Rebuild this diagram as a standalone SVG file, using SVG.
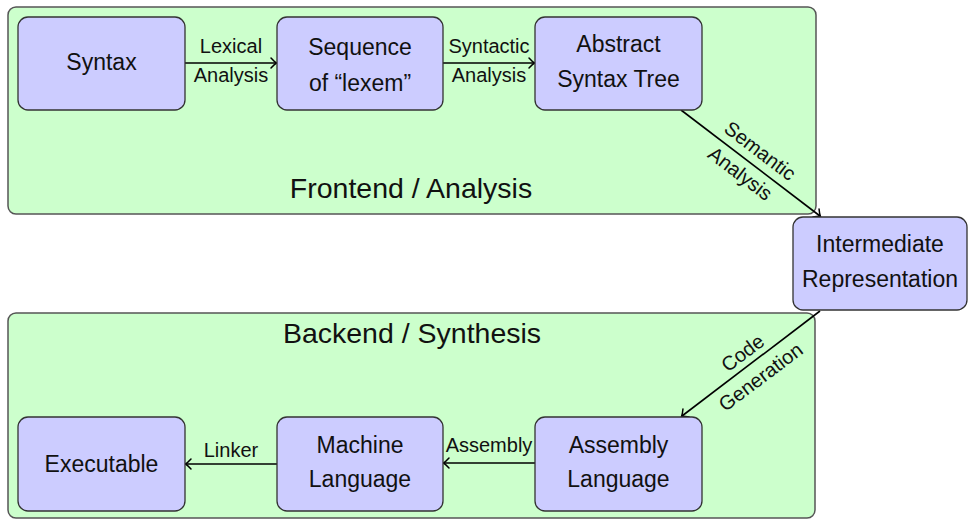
<svg xmlns="http://www.w3.org/2000/svg" width="968" height="519" viewBox="0 0 968 519">
<style>
.box{fill:#ccffcc;stroke:#555;stroke-width:1.5}
.node{fill:#ccccff;stroke:#333;stroke-width:1.3}
.nt{font-family:"Liberation Sans",Arial,sans-serif;font-size:23px;fill:#111;text-anchor:middle}
.et{font-family:"Liberation Sans",Arial,sans-serif;font-size:20px;fill:#111;text-anchor:middle}
.tt{font-family:"Liberation Sans",Arial,sans-serif;font-size:28.5px;fill:#111;text-anchor:middle}
.edge{fill:none;stroke:#000;stroke-width:1.6;marker-end:url(#arr)}
</style>
<defs>
<marker id="arr" markerUnits="userSpaceOnUse" markerWidth="14" markerHeight="14" viewBox="-10 -7 14 14" refX="0" refY="0" orient="auto">
<path d="M-5,-5 Q-1.5,-1.2 0.5,0 Q-1.5,1.2 -5,5" fill="none" stroke="#000" stroke-width="1.5" stroke-linecap="round"/>
</marker>
</defs>
<g id="frontend">
<rect class="box" x="8" y="7" width="808" height="207" rx="8"/>
<text class="tt" x="411" y="198">Frontend / Analysis</text>
</g>
<g id="backend">
<rect class="box" x="8" y="313" width="807" height="205" rx="8"/>
<text class="tt" x="412" y="343">Backend / Synthesis</text>
</g>
<g id="connectors">
<line class="edge" x1="185" y1="63" x2="276" y2="63"/>
<text class="et" x="231" y="53">Lexical</text>
<text class="et" x="231" y="82">Analysis</text>
<line class="edge" x1="443" y1="63" x2="534" y2="63"/>
<text class="et" x="489" y="53">Syntactic</text>
<text class="et" x="489" y="82">Analysis</text>
<line class="edge" x1="681" y1="110" x2="820" y2="216"/>
<g transform="translate(750.5,163.5) rotate(37.3)">
<text class="et" x="0" y="-9">Semantic</text>
<text class="et" x="-2" y="21">Analysis</text>
</g>
<line class="edge" x1="820" y1="311" x2="682" y2="416"/>
<g transform="translate(751,364) rotate(-37)">
<text class="et" x="0" y="-7">Code</text>
<text class="et" x="0" y="23">Generation</text>
</g>
<line class="edge" x1="535" y1="463" x2="444" y2="463"/>
<text class="et" x="489" y="452">Assembly</text>
<line class="edge" x1="277" y1="464" x2="186" y2="464"/>
<text class="et" x="231" y="457">Linker</text>
</g>
<g id="syntax">
<rect class="node" x="18" y="17" width="167" height="93" rx="10"/>
<text class="nt" x="101.5" y="70">Syntax</text>
</g>
<g id="lexems">
<rect class="node" x="277" y="17" width="166" height="93" rx="10"/>
<text class="nt" x="360" y="55">Sequence</text>
<text class="nt" x="360" y="91">of “lexem”</text>
</g>
<g id="ast">
<rect class="node" x="535" y="17" width="167" height="93" rx="10"/>
<text class="nt" x="618.5" y="52">Abstract</text>
<text class="nt" x="618.5" y="87">Syntax Tree</text>
</g>
<g id="ir">
<rect class="node" x="793" y="217" width="174" height="93" rx="10"/>
<text class="nt" x="880" y="252">Intermediate</text>
<text class="nt" x="880" y="287">Representation</text>
</g>
<g id="asm">
<rect class="node" x="535" y="417" width="167" height="94" rx="10"/>
<text class="nt" x="618.5" y="453">Assembly</text>
<text class="nt" x="618.5" y="487">Language</text>
</g>
<g id="machine">
<rect class="node" x="277" y="417" width="166" height="94" rx="10"/>
<text class="nt" x="360" y="453">Machine</text>
<text class="nt" x="360" y="487">Language</text>
</g>
<g id="executable">
<rect class="node" x="18" y="417" width="167" height="94" rx="10"/>
<text class="nt" x="101.5" y="472">Executable</text>
</g>
</svg>
